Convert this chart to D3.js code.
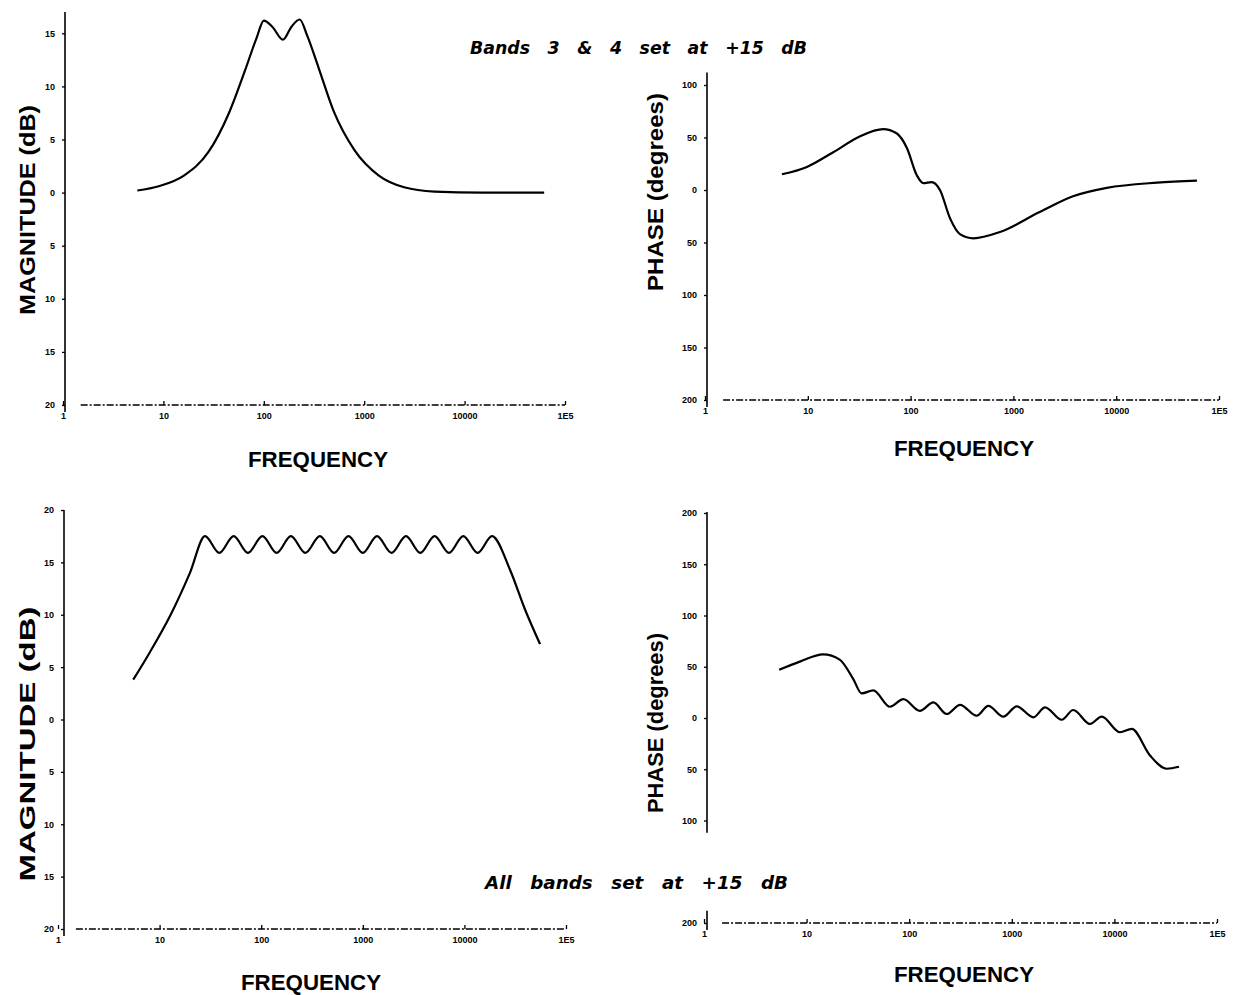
<!DOCTYPE html>
<html>
<head>
<meta charset="utf-8">
<script src="https://cdn.jsdelivr.net/npm/d3@7"></script>
<style>
body { margin: 0; background: #fff; }
.curve { fill: none; stroke: #000; stroke-width: 2.2; stroke-linejoin: round; }
.axisline { stroke: #000; stroke-width: 1.6; }
.xbase { stroke: #000; stroke-width: 1.6; stroke-dasharray: 7,2,2,2; }
.tick text { font-family: "Liberation Sans", Arial, sans-serif; font-weight: bold; font-size: 9px; fill: #000; }
.tick line { stroke: #000; stroke-width: 1.3; }
.atitle { font-family: "Liberation Sans", Arial, sans-serif; font-weight: bold; font-size: 22px; fill: #000; }
.note { font-family: "DejaVu Sans", sans-serif; font-weight: bold; font-style: italic; font-size: 18px; word-spacing: 12px; fill: #000; }
</style>
</head>
<body>
<div id="chart"></div>
<script>
(function() {

// frequency decades shown on every x axis
const xTickVals = [1, 10, 100, 1000, 10000, 100000];
const xTickLabels = ["1", "10", "100", "1000", "10000", "1E5"];

// top left: magnitude, bands 3 & 4 at +15 dB
const tlFreq = [5.5, 9, 16, 28, 45, 65, 85, 100, 122, 155, 188, 228, 270, 350, 500, 800, 1400, 2500, 5000, 15000, 62000];
const tlMag  = [0.2, 0.6, 1.6, 3.8, 7.5, 11.5, 14.6, 16.2, 15.6, 14.4, 15.6, 16.3, 14.8, 11.8, 7.6, 4.0, 1.6, 0.5, 0.1, 0, 0];
const tlTicks = [15, 10, 5, 0, -5, -10, -15, -20];
const tlLabels = ["15", "10", "5", "0", "5", "10", "15", "20"];

// top right: phase, bands 3 & 4
const trFreq  = [5.6, 9.8, 17.7, 32, 54, 73, 92, 115, 133, 160, 193, 242, 302, 408, 740, 1800, 3800, 8100, 25000, 61000];
const trPhase = [15, 22, 36, 51, 58, 54, 40, 14, 6.5, 7.5, 0, -27, -42, -46, -40, -21, -6, 2, 7, 9];
const trTicks = [100, 50, 0, -50, -100, -150, -200];
const trLabels = ["100", "50", "0", "50", "100", "150", "200"];

// bottom left: magnitude, all bands at +15 dB
const blFreq = [5.5, 8, 12.7, 19.9, 28, 38.7, 53.6, 74, 102.8, 142, 196, 272, 378, 522, 723, 1000, 1380, 1918, 2660, 3680, 5090, 7050, 9750, 13500, 18700, 28100, 39500, 55500];
const blMag  = [3.8, 6.4, 9.9, 14.0, 17.5, 15.9, 17.5, 15.9, 17.5, 15.9, 17.5, 15.9, 17.5, 15.9, 17.5, 15.9, 17.5, 15.9, 17.5, 15.9, 17.5, 15.9, 17.5, 15.9, 17.5, 14.3, 10.5, 7.2];
const blTicks = [20, 15, 10, 5, 0, -5, -10, -15, -20];
const blLabels = ["20", "15", "10", "5", "0", "5", "10", "15", "20"];

// bottom right: phase, all bands
const brFreq  = [5.4, 8.6, 14.5, 21, 28.5, 34.4, 44.7, 65, 87.6, 127, 172, 232, 313, 455, 590, 826, 1117, 1622, 2109, 3065, 3976, 5780, 7516, 11350, 14750, 22230, 32340, 42650];
const brPhase = [47, 55, 62, 57, 38, 24, 27, 11, 18.4, 7, 15.2, 3.9, 12.9, 2.2, 11.9, 1.3, 11.4, 0.7, 10.4, -1.7, 7.8, -5.8, 1.3, -13.9, -10.7, -36.6, -49.5, -47.6];
const brTicks = [200, 150, 100, 50, 0, -50, -100, -200];
const brLabels = ["200", "150", "100", "50", "0", "50", "100", "200"];

const W = 1242, H = 995;

let svg = d3.select("#chart").append("svg")
    .attr("width", W)
    .attr("height", H);

function drawPanel(p) {
    let x = d3.scaleLog().domain([1, 1e5]).range(p.xr);
    let y = d3.scaleLinear().domain(p.yd).range(p.yr);
    let g = svg.append("g");
    let y0 = y(p.yd[0]);

    // y axis (line drawn by hand so it can run past the ticks)
    g.append("g")
        .attr("transform", "translate(" + p.ax + ",0)")
        .call(d3.axisLeft(y).tickValues(p.yTicks).tickFormat((d, i) => p.yLabels[i]).tickSize(3).tickPadding(7))
        .call(a => a.select(".domain").remove());
    p.ySegs.forEach(s => {
        g.append("line").attr("class", "axisline")
            .attr("x1", p.ax).attr("x2", p.ax)
            .attr("y1", y(s[0])).attr("y2", y(s[1]) + (s[1] === p.yd[0] ? 7 : 0));
    });

    // x axis: dashed baseline with small decade ticks
    g.append("line").attr("class", "xbase")
        .attr("x1", x(1.5)).attr("x2", x(1e5))
        .attr("y1", y0).attr("y2", y0);
    g.append("g")
        .attr("transform", "translate(0," + y0 + ")")
        .call(d3.axisBottom(x).tickValues(xTickVals).tickFormat((d, i) => xTickLabels[i]).tickSize(-4).tickPadding(8))
        .call(a => a.select(".domain").remove());

    // response curve
    let line = d3.line()
        .x(d => x(d[0]))
        .y(d => y(d[1]))
        .curve(d3.curveMonotoneX);
    g.append("path")
        .datum(d3.zip(p.freq, p.vals))
        .attr("class", "curve")
        .attr("d", line);

    // axis titles
    g.append("text").attr("class", "atitle")
        .attr("transform", "translate(" + p.ylx + "," + p.yly + ") rotate(-90)")
        .attr("text-anchor", "middle")
        .attr("textLength", p.ylLen).attr("lengthAdjust", "spacingAndGlyphs")
        .text(p.ytitle);
    g.append("text").attr("class", "atitle")
        .attr("x", p.xlx).attr("y", p.xly)
        .attr("text-anchor", "middle")
        .attr("textLength", 140).attr("lengthAdjust", "spacingAndGlyphs")
        .text("FREQUENCY");
}

drawPanel({
    xr: [63, 565], yd: [-20, 15], yr: [405, 33.3], ax: 65,
    ySegs: [[17, -20]], yTicks: tlTicks, yLabels: tlLabels,
    freq: tlFreq, vals: tlMag,
    ytitle: "MAGNITUDE (dB)", ylx: 35, yly: 210, ylLen: 210,
    xlx: 318, xly: 467
});
drawPanel({
    xr: [705, 1219], yd: [-200, 100], yr: [400, 85], ax: 707,
    ySegs: [[112, -200]], yTicks: trTicks, yLabels: trLabels,
    freq: trFreq, vals: trPhase,
    ytitle: "PHASE (degrees)", ylx: 663, yly: 192, ylLen: 198,
    xlx: 964, xly: 456
});
drawPanel({
    xr: [58, 566], yd: [-20, 20], yr: [929, 510], ax: 64,
    ySegs: [[20, -20]], yTicks: blTicks, yLabels: blLabels,
    freq: blFreq, vals: blMag,
    ytitle: "MAGNITUDE (dB)", ylx: 35, yly: 744, ylLen: 275,
    xlx: 311, xly: 990
});
drawPanel({
    xr: [704, 1217], yd: [-200, 200], yr: [923, 513], ax: 707,
    ySegs: [[201, -112], [-188, -200]], yTicks: brTicks, yLabels: brLabels,
    freq: brFreq, vals: brPhase,
    ytitle: "PHASE (degrees)", ylx: 663, yly: 723, ylLen: 180,
    xlx: 964, xly: 982
});

// captions
svg.append("text").attr("class", "note")
    .attr("x", 470).attr("y", 54)
    .attr("textLength", 337).attr("lengthAdjust", "spacingAndGlyphs")
    .text("Bands 3 & 4 set at +15 dB");
svg.append("text").attr("class", "note")
    .attr("x", 485).attr("y", 889)
    .attr("textLength", 303).attr("lengthAdjust", "spacingAndGlyphs")
    .text("All bands set at +15 dB");

})();
</script>
</body>
</html>
